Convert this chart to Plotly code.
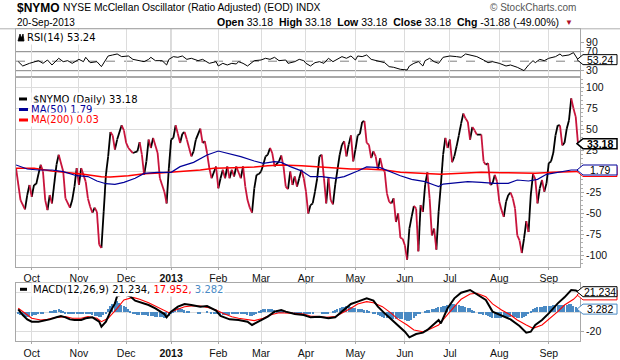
import plotly.graph_objects as go
import pandas as pd

W, H = 620, 360
def px(x): return x / W
def py(y): return 1 - y / H

# ---------------- trading calendar (session index 0 = 20-Sep-2012) ----------------
holidays = ["2012-10-29", "2012-10-30", "2012-11-22", "2012-12-25", "2013-01-01",
            "2013-01-21", "2013-02-18", "2013-03-29", "2013-05-27", "2013-07-04", "2013-09-02"]
sessions = [d for d in pd.bdate_range("2012-09-20", "2013-09-20")
            if d.strftime("%Y-%m-%d") not in holidays]

month_idx, month_txt = [], []
prev = sessions[0].month
for i, d in enumerate(sessions):
    if d.month != prev:
        month_idx.append(i)
        month_txt.append("<b>2013</b>" if d.month == 1 else d.strftime("%b"))
    prev = d.month

# ---------------- data (session index, value) ----------------
nymo_day = [0, 2, 4, 5, 6, 7, 8, 9, 10, 11, 12, 13, 14, 15, 16, 18, 19, 21, 22, 24, 25, 26, 27, 28, 29,
            31, 32, 33, 34, 35, 36, 37, 38, 39, 40, 41, 42, 43, 44, 45, 47, 48, 49, 50, 52, 54, 55, 56,
            57, 58, 59, 60, 61, 63, 64, 66, 67, 68, 69, 70, 71, 72, 73, 74, 75, 76, 77, 78, 79, 80, 82,
            83, 84, 85, 86, 87, 89, 90, 91, 92, 93, 94, 95, 96, 97, 98, 100, 101, 102, 103, 104, 105,
            106, 107, 108, 109, 110, 111, 112, 113, 114, 115, 117, 118, 119, 120, 121, 122, 123, 124,
            125, 126, 127, 128, 129, 130, 131, 132, 133, 134, 135, 136, 137, 138, 139, 140, 141, 142,
            144, 145, 146, 147, 148, 149, 150, 151, 152, 153, 154, 155, 156, 157, 158, 159, 160, 161,
            162, 163, 164, 165, 166, 167, 168, 169, 170, 171, 172, 173, 174, 175, 176, 177, 178, 179,
            180, 181, 182, 183, 184, 185, 186, 187, 188, 189, 190, 191, 192, 193, 194, 195, 196, 197,
            198, 199, 200, 201, 202, 203, 204, 205, 207, 208, 209, 210, 211, 212, 213, 214, 215, 216,
            217, 218, 219, 220, 221, 222, 223, 224, 225, 226, 227, 228, 229, 230, 231, 232, 233, 234,
            235, 236, 237, 238, 239, 240, 241, 242, 243, 244, 245, 246, 247, 248, 249, 250]
nymo_val = [4, -34, -45, -28, -16, -30, -16, -15, -3, 8, 0, -34, -46, -28, -38, 8, 20, 0, -32, -43, -34,
            -18, 4, -16, 4, -12, -32, -42, -49, -43, -48, -87, -91, -48, -4, 18, 47, 43, 26, 38, 55, 49,
            34, 28, 22, 24, 35, 20, -4, 12, 38, 28, 40, 22, -8, -24, -38, 4, 38, 40, 55, 45, 34, 45, 47,
            38, 28, 18, 24, 38, 51, 34, 36, 22, 4, -8, 6, -20, -8, 2, -8, 6, -8, 2, -6, 6, -8, 6, -18,
            -34, -43, -49, -20, -4, -3, 0, 8, 18, 20, 28, 22, 6, 12, 19, 6, -18, -21, 0, -16, -6, -18,
            -8, 2, -8, -24, -50, -40, -38, -24, -8, 18, 20, -8, -38, -8, -34, -39, -16, 20, 32, 36, 18,
            32, 43, 12, 26, 43, 45, 59, 60, 34, 32, 16, 24, 18, 2, 16, 4, 0, -26, -36, -38, -32, -60,
            -50, -79, -80, -88, -105, -68, -54, -41, -44, -95, -40, -48, -16, -1, -32, -76, -68, -93,
            -48, -16, 20, 40, 28, 38, 11, 18, 30, 43, 57, 69, 63, 59, 38, 53, 49, 44, 44, 12, 8, 10,
            -16, -14, -4, -12, -36, -46, -54, -36, -28, -25, -32, -44, -76, -82, -97, -80, -59, -72,
            -28, -3, -9, -38, -20, -10, -24, -14, 10, 12, 22, 43, 55, 55, 31, 34, 51, 61, 87, 75,
            65.06, 33.18]

ma50_day = [0, 5, 10, 16, 21, 27, 32, 36, 40, 44, 48, 53, 57, 63, 69, 73, 79, 85, 90, 94, 100, 106, 110,
            115, 118, 122, 127, 131, 136, 142, 146, 152, 156, 162, 167, 171, 176, 182, 186, 188, 190,
            195, 201, 207, 213, 219, 223, 228, 232, 236, 241, 245, 247, 250]
ma50_val = [7.8, 3, 1.8, 1.8, -0.2, -5, -6, -11.3, -14.5, -15.3, -12.9, -8.1, -2.2, -1, -1, 5.8, 10.9,
            19.7, 24.4, 21.7, 17.7, 12.5, 9.7, 11.7, 10.9, 5.8, 0.8, -6.1, -6.1, -8.1, -6.1, 0.6, 5.4,
            4.6, -1, -5, -9.3, -12.1, -16, -18, -14.9, -13.3, -12.1, -12.9, -14.1, -14.1, -10.1, -11.3,
            -9.3, -3.3, -1, 0.6, 1.8, 1.79]

ma200_day = [0, 8, 16, 23, 30, 38, 42, 50, 57, 64, 70, 76, 82, 88, 97, 106, 112, 118, 127, 134, 142,
             149, 156, 164, 171, 180, 189, 198, 207, 216, 225, 231, 239, 250]
ma200_val = [3.8, 3.8, 0.6, -1, -3.3, -6.1, -6.5, -4.9, -2.6, -1.8, -1, 0.6, 1.8, 3.8, 4.6, 5.4, 7, 7.8,
             7, 5.8, 4.6, 3, 3, 1.8, -1, -2.2, -3.3, -2.2, -1, -1.4, -2.2, -2.2, -1, 0.03]

rsi_day = [1, 3, 6, 7, 10, 12, 14, 16, 19, 21, 23, 25, 28, 30, 31, 33, 36, 38, 40, 41, 43, 45, 47, 50,
           52, 54, 57, 59, 60, 62, 65, 67, 68, 70, 72, 74, 76, 78, 81, 83, 86, 89, 90, 92, 94, 96, 98,
           99, 101, 103, 105, 106, 109, 111, 113, 115, 117, 120, 121, 124, 126, 128, 129, 131, 133,
           135, 137, 139, 141, 143, 145, 147, 149, 151, 152, 154, 156, 158, 160, 162, 164, 166, 168,
           171, 174, 175, 177, 179, 181, 182, 184, 186, 188, 190, 193, 196, 198, 200, 203, 205, 208,
           210, 212, 215, 218, 220, 223, 226, 228, 230, 231, 233, 235, 237, 240, 242, 243, 246, 248,
           249, 250]
rsi_val = [49, 39.9, 45.5, 46.9, 51.1, 45.5, 52.5, 42, 56.1, 49, 51.1, 45.5, 53.9, 49, 58.2, 46.9, 49,
           38.5, 52.5, 61, 63.1, 65.2, 59.6, 61, 53.9, 52.5, 49, 53.9, 58.2, 51.1, 51.1, 42, 53.9, 59.6,
           58.2, 61, 53.9, 56.1, 51.1, 53.9, 45.5, 49, 39.9, 45.5, 42, 45.5, 44.1, 49, 45.5, 39.9, 46.9,
           51.1, 52.5, 56.1, 53.9, 58.2, 51.1, 52.5, 45.5, 49, 53.9, 51.1, 45.5, 39.9, 46.9, 49, 45.5,
           56.1, 49, 53.9, 59.6, 56.1, 61, 52.5, 61, 59.6, 63.1, 53.9, 51.1, 49, 46.9, 38.5, 37.1, 32.9,
           31.5, 39.9, 45.5, 49, 39.9, 51.1, 56.1, 49, 45.5, 58.2, 61, 59.6, 58.2, 65.2, 61, 59.6, 52.5,
           46.9, 49, 45.5, 39.9, 42, 37.1, 30.1, 42, 51.1, 46.9, 53.9, 51.1, 56.1, 59.6, 65.2, 61, 63.1,
           68, 61, 53.24]

macd_day = [1, 3, 5, 7, 10, 13, 15, 18, 20, 22, 24, 26, 29, 31, 34, 37, 38, 40, 42, 44, 45, 48, 51, 53,
            56, 59, 62, 66, 67, 69, 72, 75, 78, 82, 85, 89, 91, 95, 99, 103, 105, 108, 112, 115, 118,
            120, 124, 128, 131, 135, 139, 142, 145, 149, 152, 156, 159, 161, 164, 167, 170, 173, 175,
            178, 181, 183, 186, 188, 189, 192, 195, 198, 202, 205, 209, 212, 217, 220, 224, 227, 229,
            231, 234, 237, 241, 244, 247, 249, 250]
macd_val = [3.1, -2.8, -7.3, -9.7, -9.7, -8.6, -7.3, -5.2, -3.8, -5.2, -7.3, -7.9, -7.9, -6.2, -5.2,
            -9.7, -14.8, -9.7, 0.7, 9.2, 16.8, 18.9, 16.1, 12, 9.9, 7.5, 4.1, -1.8, -5.2, 0.7, 5.8, 8.6,
            7.5, 5.8, 6.5, 1.7, -3.8, -7.3, -7.9, -9.7, -13.1, -9.7, -4.5, 0.7, 2.4, 0.7, -1.8, -2.8,
            -5.2, -4.5, -6.2, -5.2, 0.7, 8.6, 11, 14.4, 12, 5.8, -1.1, -7.3, -13.1, -20, -25.8, -22.4,
            -21, -18.2, -12.1, -7.9, -11.4, 4.1, 14.4, 20.2, 23, 18.9, 12.7, 0.7, -3.8, -7.3, -14.1, -21,
            -20, -13.1, -7.9, -1.1, 9.2, 15.4, 23, 22.5, 21.234]

signal_day = [1, 4, 7, 11, 14, 18, 22, 25, 29, 32, 36, 38, 41, 45, 48, 52, 55, 59, 62, 66, 68, 71, 75,
              78, 82, 85, 89, 92, 96, 99, 103, 106, 110, 113, 117, 120, 124, 128, 131, 135, 138, 142,
              145, 149, 152, 156, 159, 163, 167, 170, 174, 177, 181, 184, 188, 191, 195, 198, 202, 205,
              209, 212, 216, 220, 223, 227, 230, 234, 237, 241, 244, 248, 250]
signal_val = [4.1, -1.1, -6.2, -7.9, -7.3, -5.2, -4.5, -6.2, -6.2, -4.5, -6.2, -9.7, -6.2, 4.1, 12.7,
              15.4, 13.4, 9.9, 6.5, 1.7, -0.4, 2.4, 5.8, 6.5, 6.5, 5.1, 2.4, -1.1, -4.5, -6.2, -7.9,
              -8.6, -6.2, -2.8, -0.4, -0.4, -1.1, -1.8, -3.8, -4.5, -5.2, -4.5, -1.1, 4.1, 8.6, 11, 9.9,
              5.8, -1.1, -7.3, -13.1, -18.2, -20, -17.6, -13.1, -4.5, 5.8, 13.4, 18.9, 19.6, 16.1, 8.6,
              2.4, -2.8, -7.9, -13.1, -16.5, -13.1, -7.3, 0.7, 7.5, 13.4, 17.952]

hist_val = [0, -2, -3, -4, -5, -5, -5, -4, -3, -3,
            -2, -1, -1, 0, 0, 1, 1, 2, 2, 3,
            2, 1, -1, -1, -2, -2, -2, -2, -1, -1,
            -1, -1, -1, -2, -3, -4, -4, -5, -5, -3,
            -1, 3, 6, 9, 11, 12, 10, 8, 7, 5,
            3, 1, -1, -2, -3, -3, -3, -3, -3, -4,
            -4, -4, -5, -5, -5, -5, -6, -6, -4, -1,
            2, 3, 4, 4, 3, 2, 1, 1, 0, 0,
            0, -1, -1, 0, 0, 1, 0, -1, -1, -2,
            -2, -3, -3, -3, -3, -3, -2, -2, -2, -2,
            -2, -2, -2, -3, -4, -4, -3, -1, 1, 2,
            3, 3, 3, 3, 3, 2, 2, 2, 1, 1,
            1, 0, 0, -1, -1, -1, -1, -1, -1, -1,
            -1, -1, -1, 0, 0, 0, -1, -1, -1, -1,
            0, 1, 2, 3, 4, 5, 5, 6, 6, 5,
            4, 4, 3, 3, 3, 2, 2, 1, 0, -1,
            -2, -3, -4, -5, -6, -6, -6, -7, -7, -7,
            -6, -7, -7, -8, -9, -9, -8, -6, -4, -2,
            -1, 0, 1, 2, 2, 3, 3, 4, 5, 5,
            6, 7, 8, 9, 9, 9, 8, 8, 7, 6,
            5, 4, 4, 2, 1, 0, -1, -2, -3, -3,
            -4, -5, -6, -6, -6, -6, -6, -5, -5, -5,
            -5, -5, -5, -6, -6, -6, -5, -4, -2, 1,
            3, 4, 5, 5, 5, 6, 6, 7, 7, 8,
            8, 8, 8, 8, 8, 8, 9, 9, 7, 5, 3.282]

# axis tick values (labels hidden where the right-edge value boxes sit)
main_ticks = [-100, -75, -50, -25, 0, 25, 50, 75, 100]
main_labels = ["-100", "-75", "-50", "-25", "", "25", "50", "75", "100"]
macd_ticks = [-20, 0, 20]
macd_labels = ["-20", "", ""]
rsi_ticks = [30, 70, 90]

# ---------------- styling constants ----------------
VFONT = "DejaVu Sans"
AFONT = "Liberation Sans, Arial"
GRID = "#dcdcdc"
BORDER = "#a8a8a8"
UP, DOWN = "#000000", "#c8143c"
NAVY, RED, HBLUE = "#000099", "#ff0000", "#4a8ac4"

X_RANGE = [0, 250.9]
XL, XR = 16, 580
# pixel top/bottom and value range of each panel
PANELS = {"":  (29, 77, [16.7, 117.8]),
          "2": (77, 266.7, [-113.3, 112.5]),
          "3": (283, 341, [-29.6, 30.2])}
x_dom = [px(XL), px(XR)]
def dom(sfx):
    t, b, _ = PANELS[sfx]
    return [py(b), py(t)]
def ppu(sfx):   # pixels per value unit
    t, b, r = PANELS[sfx]
    return (b - t) / (r[1] - r[0])

fig = go.Figure()

# RSI
fig.add_trace(go.Scatter(x=rsi_day, y=rsi_val, xaxis="x", yaxis="y", mode="lines",
                         line=dict(color="#000000", width=1), hoverinfo="skip"))

# NYMO split in rising/falling segments
ux, uy, dx, dy = [], [], [], []
for i in range(1, len(nymo_day)):
    seg_x = [nymo_day[i - 1], nymo_day[i], None]
    seg_y = [nymo_val[i - 1], nymo_val[i], None]
    if nymo_val[i] >= nymo_val[i - 1]:
        ux += seg_x; uy += seg_y
    else:
        dx += seg_x; dy += seg_y
fig.add_trace(go.Scatter(x=ux, y=uy, xaxis="x2", yaxis="y2", mode="lines",
                         line=dict(color=UP, width=1.8), hoverinfo="skip"))
fig.add_trace(go.Scatter(x=dx, y=dy, xaxis="x2", yaxis="y2", mode="lines",
                         line=dict(color=DOWN, width=1.8), hoverinfo="skip"))
fig.add_trace(go.Scatter(x=ma200_day, y=ma200_val, xaxis="x2", yaxis="y2", mode="lines",
                         line=dict(color=RED, width=1.5), hoverinfo="skip"))
fig.add_trace(go.Scatter(x=ma50_day, y=ma50_val, xaxis="x2", yaxis="y2", mode="lines",
                         line=dict(color=NAVY, width=1.2), hoverinfo="skip"))

# MACD
fig.add_trace(go.Bar(x=list(range(len(hist_val))), y=hist_val, xaxis="x3", yaxis="y3",
                     marker=dict(color=HBLUE, line=dict(width=0)), width=0.6, hoverinfo="skip"))
fig.add_trace(go.Scatter(x=signal_day, y=signal_val, xaxis="x3", yaxis="y3", mode="lines",
                         line=dict(color=RED, width=1.1), hoverinfo="skip"))
fig.add_trace(go.Scatter(x=macd_day, y=macd_val, xaxis="x3", yaxis="y3", mode="lines",
                         line=dict(color="#000000", width=2), hoverinfo="skip"))

def xax(anchor, labels):
    return dict(domain=x_dom, range=X_RANGE, anchor=anchor, tickmode="array",
                tickvals=month_idx, ticktext=month_txt, showticklabels=labels,
                showgrid=True, gridcolor=GRID, gridwidth=1, zeroline=False,
                showline=True, mirror=True, linecolor=BORDER, linewidth=1,
                ticks="outside" if labels else "", ticklen=2, tickcolor=BORDER,
                tickfont=dict(family=AFONT, size=10.5, color="#111"), fixedrange=True)

def yax(sfx, anchor, **kw):
    d = dict(domain=dom(sfx), range=PANELS[sfx][2], anchor=anchor, side="right", zeroline=False,
             showline=True, mirror=True, linecolor=BORDER, linewidth=1,
             ticks="outside", ticklen=3, tickcolor=BORDER, gridcolor=GRID,
             tickfont=dict(family=AFONT, size=10.5, color="#111"), fixedrange=True)
    d.update(kw)
    return d

shapes = []
annotations = []

# RSI reference lines
for lv, dash in [(70, "solid"), (30, "solid"), (50, "dash")]:
    shapes.append(dict(type="line", xref="paper", yref="y", x0=px(XL), x1=px(XR), y0=lv, y1=lv,
                       line=dict(color="#808080", width=1, dash=dash), layer="below"))

# darker year gridline
jan = month_idx[month_txt.index("<b>2013</b>")]
for sfx in ["", "2", "3"]:
    r = PANELS[sfx][2]
    shapes.append(dict(type="line", xref="x" + sfx, yref="y" + sfx, x0=jan, x1=jan, y0=r[0], y1=r[1],
                       line=dict(color="#a0a0a0", width=1), layer="below"))

# header separator
shapes.append(dict(type="line", xref="paper", yref="paper", x0=0, x1=1, y0=py(28.8), y1=py(28.8),
                   line=dict(color="#b0b0b0", width=1)))

# legend markers
for (x0, x1, yy, col) in [(19, 27, 99, UP), (19, 28, 109.5, NAVY), (19, 28, 120, RED),
                          (20, 27, 289.3, "#000000")]:
    shapes.append(dict(type="line", xref="paper", yref="paper", x0=px(x0), x1=px(x1),
                       y0=py(yy), y1=py(yy), line=dict(color=col, width=3)))

# RSI icon
ix, iy = 18, 41
shapes.append(dict(type="path", xref="paper", yref="paper",
                   path=f"M{px(ix)},{py(iy)} L{px(ix+2)},{py(iy-7)} L{px(ix+3.5)},{py(iy-3)} "
                        f"L{px(ix+5)},{py(iy-7)} L{px(ix+6)},{py(iy)} Z",
                   fillcolor="#000", line=dict(color="#000", width=0.8)))

# value boxes on right edge
def value_box(sfx, val, color, text, bold=False, lw=1):
    h = 5 / ppu(sfx)
    a, b, c = px(577), px(583), px(617)
    shapes.append(dict(type="path", xref="paper", yref="y" + sfx,
                       path=f"M{a},{val} L{b},{val+h} L{c},{val+h} L{c},{val-h} L{b},{val-h} Z",
                       line=dict(color=color, width=lw), fillcolor="white", layer="above"))
    if text:
        t = f"<b>{text}</b>" if bold else text
        annotations.append(dict(xref="paper", yref="y" + sfx, x=px(600), y=val, text=t,
                                showarrow=False, xanchor="center", yanchor="middle",
                                font=dict(family=AFONT, size=10.5, color="#000")))

value_box("", rsi_val[-1], "#000000", f"{rsi_val[-1]:.2f}")
value_box("2", ma200_val[-1], RED, "")
value_box("2", ma50_val[-1], NAVY, f"{ma50_val[-1]:.2f}")
value_box("2", nymo_val[-1], "#000000", f"{nymo_val[-1]:.2f}", bold=True, lw=1.5)
value_box("3", signal_val[-1], RED, "")
value_box("3", macd_val[-1], "#000000", f"{macd_val[-1]:.3f}")
value_box("3", hist_val[-1], HBLUE, f"{hist_val[-1]:.3f}")

def txt(x, y, s, size=10, color="#000", family=AFONT, anchor="left", bg=None):
    d = dict(xref="paper", yref="paper", x=px(x), y=py(y), text=s, showarrow=False,
             xanchor=anchor, yanchor="middle", font=dict(family=family, size=size, color=color))
    if bg:
        d.update(bgcolor=bg, borderpad=1)
    annotations.append(d)

nb = "\u00a0"
last = nymo_val[-1]
chg = last - nymo_val[-2]
pct = chg / nymo_val[-2] * 100
txt(15, 7.5, "<b>$NYMO</b>", size=12)
txt(61, 7.8, "NYSE McClellan Oscillator (Ratio Adjusted) (EOD) INDX", size=10.3)
txt(578, 7.8, "© StockCharts.com", size=10, color="#555", anchor="right")
txt(15, 22, "20-Sep-2013", size=10)
txt(561, 22, f"<b>Open</b> {last:.2f}{nb}{nb}<b>High</b> {last:.2f}{nb}{nb}<b>Low</b> {last:.2f}"
             f"{nb}{nb}<b>Close</b> {last:.2f}{nb}{nb}<b>Chg</b> {chg:.2f} ({pct:.2f}%)",
    size=10.5, anchor="right")
txt(563, 22.5, "▼", size=8, color="#b0102a")

txt(25, 37.5, f"RSI(14) {rsi_val[-1]:.2f}", size=10, family=VFONT, bg="white")
txt(31, 99, f"$NYMO (Daily) {last:.2f}", size=10, family=VFONT, bg="white")
txt(29, 109.5, f"MA(50) {ma50_val[-1]:.2f}", size=10, color=NAVY, family=VFONT, bg="white")
txt(29, 120, f"MA(200) {ma200_val[-1]:.2f}", size=10, color=RED, family=VFONT, bg="white")
txt(31, 289.3, f"MACD(12,26,9) {macd_val[-1]:.3f}, <span style='color:{RED}'>{signal_val[-1]:.3f},</span> "
               f"<span style='color:{HBLUE}'>{hist_val[-1]:.3f}</span>", size=10, family=VFONT, bg="white")

fig.update_layout(
    width=W, height=H, margin=dict(l=0, r=0, t=0, b=0),
    paper_bgcolor="white", plot_bgcolor="white", showlegend=False, bargap=0,
    xaxis=xax("y", False), xaxis2=xax("y2", True), xaxis3=xax("y3", True),
    yaxis=yax("", "x", tickmode="array", tickvals=rsi_ticks, showgrid=False),
    yaxis2=yax("2", "x2", tickmode="array", tickvals=main_ticks, ticktext=main_labels, showgrid=True,
               minor=dict(dtick=5, ticks="outside", ticklen=2, tickcolor="#b0b0b0", showgrid=False)),
    yaxis3=yax("3", "x3", tickmode="array", tickvals=macd_ticks, ticktext=macd_labels, showgrid=True),
    shapes=shapes, annotations=annotations,
)

# remove the default page margin so the 620x360 figure fills the window exactly
fig.write_html("out.html", config={"displayModeBar": False},
               post_script="document.body.style.margin='0';document.body.style.overflow='hidden';")
